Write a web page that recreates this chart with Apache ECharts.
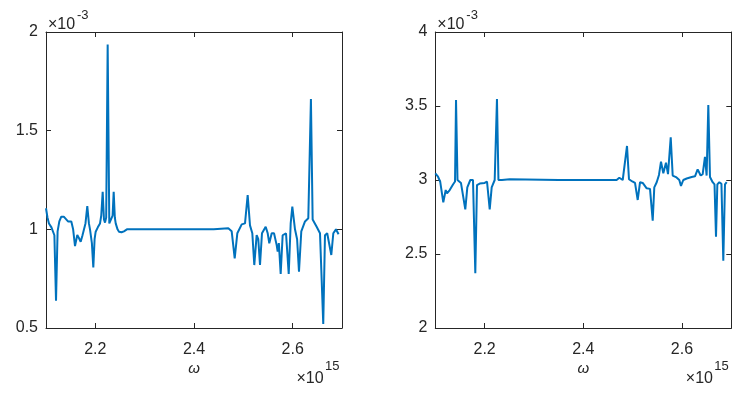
<!DOCTYPE html>
<html>
<head>
<meta charset="utf-8">
<script src="https://cdn.jsdelivr.net/npm/echarts@6/dist/echarts.min.js"></script>
<style>
  html, body { margin: 0; padding: 0; background: #fff; }
  #chart { width: 748px; height: 397px; }
</style>
</head>
<body>
<div id="chart"></div>
<script>
// omega in units of 1e15, values in units of 1e-3
const leftOmega = [
  2.100, 2.103, 2.106, 2.111, 2.115, 2.117, 2.1203, 2.1235, 2.127, 2.131, 2.136, 2.140,
  2.1446, 2.1513, 2.155, 2.1588, 2.1634, 2.167, 2.1703, 2.174, 2.180, 2.1837, 2.187, 2.1892,
  2.193, 2.1959, 2.1985, 2.2007, 2.205, 2.2095, 2.212, 2.2149, 2.2175, 2.2196, 2.222, 2.225,
  2.2283, 2.232, 2.235, 2.2372, 2.2395, 2.2413, 2.245, 2.248, 2.253, 2.258, 2.264, 2.275,
  2.350, 2.440, 2.4695, 2.4764, 2.4825, 2.4878, 2.4967, 2.5034, 2.5088, 2.5135, 2.5182, 2.5222,
  2.527, 2.5303, 2.5338, 2.5378, 2.5453, 2.5494, 2.5526, 2.5575, 2.5622, 2.5676, 2.5696, 2.572,
  2.5757, 2.5797, 2.5865, 2.592, 2.596, 2.5993, 2.6047, 2.609, 2.6128, 2.6175, 2.625, 2.6317,
  2.634, 2.637, 2.6405, 2.6486, 2.6554, 2.662, 2.6655, 2.670, 2.674, 2.6783, 2.6824, 2.6878,
  2.690, 2.693
]
const leftValue = [
  1.107, 1.06, 1.03, 1.01, 1.0, 0.97, 0.638, 0.99, 1.04, 1.064, 1.064, 1.062,
  1.04, 1.04, 1.0, 0.915, 0.971, 0.955, 0.937, 0.97, 1.03, 1.118, 1.03, 1.0,
  0.93, 0.807, 0.95, 0.988, 1.01, 1.03, 1.07, 1.19, 1.05, 1.034, 1.06, 1.937,
  1.03, 1.04, 1.07, 1.19, 1.06, 1.03, 1.0, 0.988, 0.985, 0.99, 1.0, 1.0,
  1.0, 1.0, 1.005, 0.99, 0.853, 0.98, 1.025, 1.03, 1.174, 1.02, 0.98, 0.819,
  0.971, 0.95, 0.819, 0.98, 1.013, 0.98, 0.929, 0.98, 0.98, 0.92, 0.887, 0.93,
  0.774, 0.97, 0.98, 0.774, 1.03, 1.115, 1.0, 0.95, 0.785, 0.99, 1.04, 1.056,
  1.05, 1.66, 1.05, 1.013, 0.98, 0.52, 0.97, 0.98, 0.98, 0.87, 0.98, 1.0,
  1.0, 0.975
]

const rightOmega = [
  2.100, 2.1055, 2.110, 2.1162, 2.1211, 2.1237, 2.1292, 2.1359, 2.140, 2.142, 2.145, 2.152,
  2.1608, 2.1649, 2.171, 2.1764, 2.1811, 2.1845, 2.190, 2.2001, 2.2048, 2.2103, 2.2143, 2.2204,
  2.225, 2.228, 2.235, 2.2508, 2.350, 2.4675, 2.473, 2.4799, 2.4835, 2.4886, 2.4926, 2.4993,
  2.5048, 2.5103, 2.515, 2.5204, 2.5285, 2.5352, 2.5407, 2.5439, 2.5488, 2.5534, 2.5575, 2.5622,
  2.5676, 2.5717, 2.5772, 2.5812, 2.5879, 2.5946, 2.598, 2.6027, 2.6096, 2.6197, 2.6264, 2.6318,
  2.6379, 2.642, 2.6466, 2.650, 2.6534, 2.6568, 2.6622, 2.666, 2.669, 2.6717, 2.6758, 2.680,
  2.6838, 2.6872, 2.6907
]
const rightValue = [
  3.045, 3.022, 2.988, 2.849, 2.932, 2.91, 2.932, 2.97, 2.99, 3.54, 3.0, 2.98,
  2.802, 2.95, 3.0, 3.0, 2.37, 2.966, 2.976, 2.98, 2.99, 2.802, 2.95, 3.0,
  3.547, 3.0, 3.0, 3.005, 3.0, 3.0, 3.015, 3.0, 3.01, 3.23, 3.005, 2.99,
  2.98, 2.865, 2.985, 2.98, 2.944, 2.94, 2.725, 2.95, 2.985, 3.034, 3.124, 3.045,
  3.117, 3.04, 3.288, 3.03, 3.02, 3.0, 2.96, 3.0, 3.01, 3.02, 3.025, 3.072,
  3.03, 3.04, 3.157, 3.03, 3.507, 3.02, 2.985, 2.97, 2.617, 2.97, 2.985, 2.975,
  2.455, 2.97, 2.985
]

const xTicks = [2.2, 2.4, 2.6]
const leftYRange = [0.5, 2]
const rightYRange = [2, 4]

const axisColor = '#262626'
const lineColor = '#0072BD'
const font = 'Liberation Sans, Arial, Helvetica, sans-serif'

const grids = [
  { left: 46, top: 32, width: 296, height: 296 },
  { left: 435.3, top: 32, width: 296, height: 296 },
]

const chart = echarts.init(document.getElementById('chart'), null, { renderer: 'canvas' })

function xAxes(gi) {
  const base = {
    type: 'value', gridIndex: gi, min: 2.1, max: 2.7,
    axisLine: { show: true, onZero: false, lineStyle: { color: axisColor, width: 1 } },
    axisTick: { show: true, inside: true, length: 5, customValues: xTicks, lineStyle: { color: axisColor } },
    splitLine: { show: false },
  }
  return [
    { ...base, position: 'bottom',
      axisLabel: { show: true, customValues: xTicks, margin: 14, color: axisColor, fontSize: 16, fontFamily: font,
        formatter: v => v.toFixed(1) } },
    { ...base, position: 'top', axisLabel: { show: false } },
  ]
}

function yAxes(gi, range) {
  const base = {
    type: 'value', gridIndex: gi, min: range[0], max: range[1], interval: 0.5,
    axisLine: { show: true, onZero: false, lineStyle: { color: axisColor, width: 1 } },
    axisTick: { show: true, inside: true, length: 5, lineStyle: { color: axisColor } },
    splitLine: { show: false },
  }
  return [
    { ...base, position: 'left',
      axisLabel: { show: true, margin: 8, color: axisColor, fontSize: 16, fontFamily: font,
        formatter: v => String(+v.toFixed(1)) } },
    { ...base, position: 'right', axisLabel: { show: false } },
  ]
}

function label(x, y, text, size, align, italic) {
  return {
    type: 'text', x, y, silent: true,
    style: { text, fill: axisColor, fontSize: size, fontFamily: font, align: align || 'left',
      verticalAlign: 'middle', fontStyle: italic ? 'italic' : 'normal' },
  }
}

const graphics = []
grids.forEach(g => {
  const r = g.left + g.width
  graphics.push(label(g.left + 2, 25, '×10', 16))
  graphics.push(label(g.left + 31, 15, '-3', 13))
  graphics.push(label(r - 45.5, 378.5, '×10', 16))
  graphics.push(label(r - 17, 366.5, '15', 13))
  graphics.push(label(g.left + g.width / 2, 369, 'ω', 15, 'center', true))
})

chart.setOption({
  animation: false,
  backgroundColor: '#fff',
  grid: grids.map(g => ({ ...g, outerBoundsMode: 'none', containLabel: false })),
  xAxis: [...xAxes(0), ...xAxes(1)],
  yAxis: [...yAxes(0, leftYRange), ...yAxes(1, rightYRange)],
  graphic: graphics,
  series: [
    { type: 'line', xAxisIndex: 0, yAxisIndex: 0, showSymbol: false, smooth: false,
      lineStyle: { color: lineColor, width: 2 }, itemStyle: { color: lineColor },
      data: leftOmega.map((w, i) => [w, leftValue[i]]) },
    { type: 'line', xAxisIndex: 2, yAxisIndex: 2, showSymbol: false, smooth: false,
      lineStyle: { color: lineColor, width: 2 }, itemStyle: { color: lineColor },
      data: rightOmega.map((w, i) => [w, rightValue[i]]) },
  ],
})
</script>
</body>
</html>
